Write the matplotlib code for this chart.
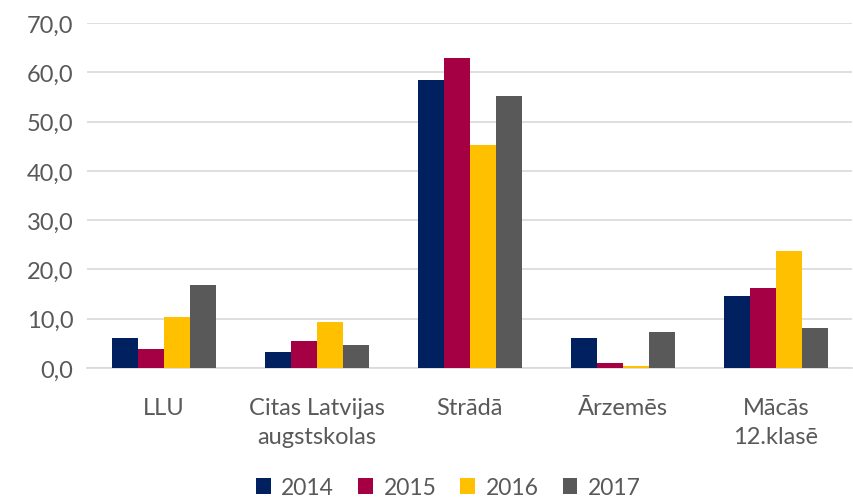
import numpy as np
import matplotlib.pyplot as plt

plt.rcParams['font.family'] = ['Lato', 'DejaVu Sans']

# dati pa kategorijām un gadiem, %
categories = ['LLU', 'Citas Latvijas\naugstskolas', 'Strādā', 'Ārzemēs', 'Mācās\n12.klasē']
years = ['2014', '2015', '2016', '2017']
v2014 = [6.1, 3.3, 58.4, 6.1, 14.7]
v2015 = [3.8, 5.5, 63.0, 1.1, 16.2]
v2016 = [10.3, 9.3, 45.3, 0.4, 23.7]
v2017 = [16.8, 4.7, 55.2, 7.2, 8.2]
series = [v2014, v2015, v2016, v2017]
colors = ['#002060', '#A50044', '#FFC000', '#595959']

text_color = '#595959'
grid_color = '#D9D9D9'

fig = plt.figure(figsize=(8.54, 5.02), dpi=100)
ax = fig.add_axes([0.102, 0.265, 0.896, 0.687])

x = np.arange(len(categories))
width = 0.17
for i, (vals, col, yr) in enumerate(zip(series, colors, years)):
    ax.bar(x + (i - 1.5) * width, vals, width, color=col, label=yr, zorder=3)

ax.set_xlim(-0.5, len(categories) - 0.5)
ax.set_ylim(0, 70)
ax.set_yticks(np.arange(0, 71, 10))
ax.set_yticklabels([f'{v:.1f}'.replace('.', ',') for v in np.arange(0, 71, 10)])
ax.set_xticks(x)
ax.set_xticklabels(categories, linespacing=1.45)

ax.yaxis.grid(True, color=grid_color, linewidth=1.2, zorder=0)
for s in ['top', 'right', 'left']:
    ax.spines[s].set_visible(False)
ax.spines['bottom'].set_color(grid_color)
ax.spines['bottom'].set_linewidth(1.2)
ax.tick_params(axis='both', length=0, labelsize=17, colors=text_color)
ax.tick_params(axis='x', pad=21)
ax.tick_params(axis='y', pad=10)

leg = fig.legend(loc='lower center', bbox_to_anchor=(0.525, -0.035), ncol=4, frameon=False,
                 fontsize=16.5, handlelength=0.65, handleheight=0.65, handletextpad=0.45,
                 columnspacing=1.05)
for t in leg.get_texts():
    t.set_color(text_color)

fig.savefig('out.png', dpi=100)
